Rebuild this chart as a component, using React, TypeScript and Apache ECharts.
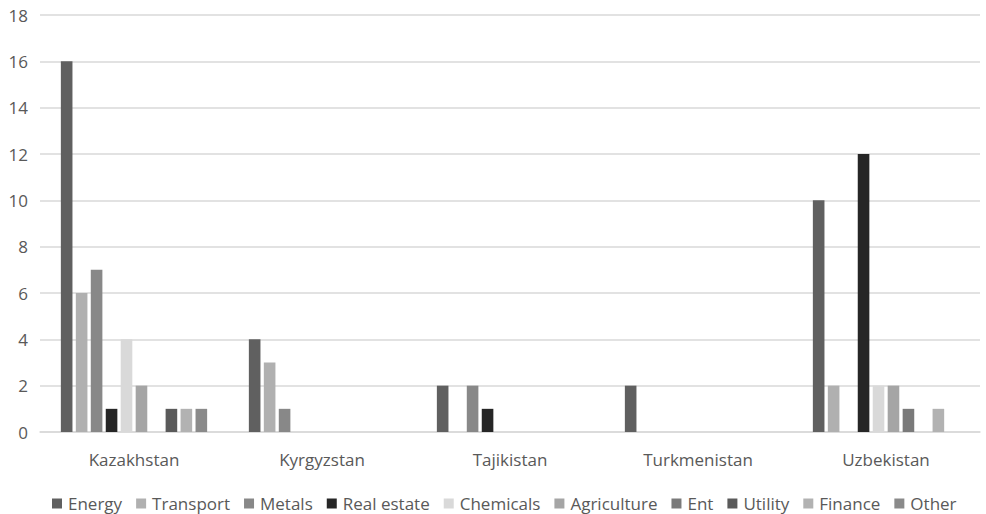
import React, { useEffect, useRef } from "react";
import * as echarts from "echarts";

const categories = ["Kazakhstan", "Kyrgyzstan", "Tajikistan", "Turkmenistan", "Uzbekistan"];
const seriesNames = ["Energy", "Transport", "Metals", "Real estate", "Chemicals", "Agriculture", "Ent", "Utility", "Finance", "Other"];
const energy = [16, 4, 2, 2, 10];
const transport = [6, 3, 0, 0, 2];
const metals = [7, 1, 2, 0, 0];
const realEstate = [1, 0, 1, 0, 12];
const chemicals = [4, 0, 0, 0, 2];
const agriculture = [2, 0, 0, 0, 2];
const ent = [0, 0, 0, 0, 1];
const utility = [1, 0, 0, 0, 0];
const finance = [1, 0, 0, 0, 1];
const other = [1, 0, 0, 0, 0];
const seriesValues = [energy, transport, metals, realEstate, chemicals, agriculture, ent, utility, finance, other];
const colors = ["#606060", "#b0b0b0", "#888888", "#262626", "#d9d9d9", "#a5a5a5", "#7a7a7a", "#5a5a5a", "#b2b2b2", "#8a8a8a"];

const FONT = "'Open Sans', 'Noto Sans', sans-serif";

export default function App() {
  const ref = useRef<HTMLDivElement>(null);
  useEffect(() => {
    if (!ref.current) return;
    const chart = echarts.init(ref.current, undefined, { renderer: "svg" });
    chart.setOption({
      animation: false,
      backgroundColor: "#ffffff",
      color: colors,
      grid: { left: 40, right: 6, top: 15, bottom: 82, containLabel: false },
      legend: {
        top: 490,
        left: 47,
        padding: 5,
        itemWidth: 10,
        itemHeight: 10,
        itemGap: 14,
        icon: "rect",
        textStyle: { color: "#595959", fontSize: 17, fontFamily: FONT, padding: [0, 0, 0, 1] },
        data: seriesNames,
      },
      xAxis: {
        type: "category",
        data: categories,
        axisLine: { lineStyle: { color: "#d9d9d9", width: 1.5 } },
        axisTick: { show: false },
        axisLabel: { color: "#595959", fontSize: 17, fontFamily: FONT, margin: 19 },
      },
      yAxis: {
        type: "value",
        min: 0,
        max: 18,
        interval: 2,
        axisLine: { show: false },
        axisTick: { show: false },
        axisLabel: { color: "#595959", fontSize: 17, fontFamily: FONT, margin: 12 },
        splitLine: { lineStyle: { color: "#d9d9d9", width: 1.5 } },
      },
      series: seriesNames.map((name, i) => ({
        name,
        type: "bar",
        data: seriesValues[i],
        barWidth: 11.6,
        barGap: "29%",
        itemStyle: { color: colors[i] },
      })),
    });
    return () => chart.dispose();
  }, []);
  return <div ref={ref} style={{ position: "fixed", left: 0, top: 0, width: 986, height: 514 }} />;
}
